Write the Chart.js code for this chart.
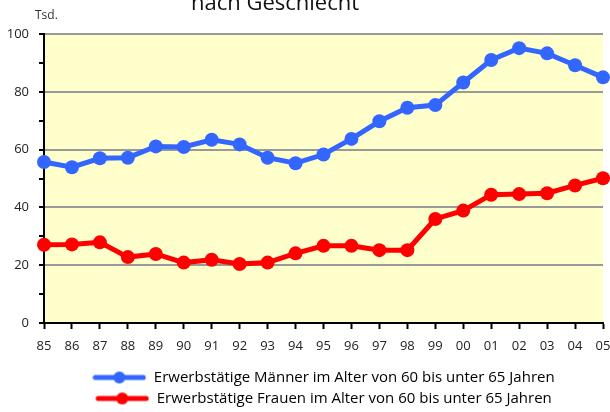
<!DOCTYPE html>
<html>
<head>
<meta charset="utf-8">
<script src="https://cdn.jsdelivr.net/npm/chart.js@4/dist/chart.umd.min.js"></script>
<style>
  html, body { margin: 0; padding: 0; background: #fff; }
  #wrap { width: 610px; height: 412px; position: relative; }
</style>
</head>
<body>
<div id="wrap"><canvas id="chart"></canvas></div>
<script>
// Erwerbstätige 60-65 Jahre, nach Geschlecht (Tsd.)
const YEARS = ['85', '86', '87', '88', '89', '90', '91', '92', '93', '94', '95',
  '96', '97', '98', '99', '00', '01', '02', '03', '04', '05'];
const MEN = [55.7, 53.9, 57.0, 57.2, 61.1, 60.9, 63.4, 61.8, 57.2, 55.3, 58.3,
  63.7, 69.8, 74.5, 75.4, 83.2, 91.0, 95.1, 93.3, 89.2, 85.0];
const WOMEN = [27.1, 27.2, 27.9, 22.8, 23.9, 20.9, 21.9, 20.4, 20.9, 24.1, 26.7,
  26.7, 25.2, 25.2, 36.0, 38.9, 44.4, 44.6, 44.9, 47.6, 50.1];
const MEN_LABEL = 'Erwerbstätige Männer im Alter von 60 bis unter 65 Jahren';
const WOMEN_LABEL = 'Erwerbstätige Frauen im Alter von 60 bis unter 65 Jahren';

const BLUE = '#3366ff';
const RED = '#ff0000';
const PLOT_BG = '#ffffcc';
const GRID = '#999999';
const FONT = "'Open Sans', 'DejaVu Sans', sans-serif";

Chart.defaults.font.family = FONT;
Chart.defaults.color = '#222';

// legend marker: line with a dot in the middle
function legendMarker(color) {
  const c = document.createElement('canvas');
  c.width = 54; c.height = 14;
  const g = c.getContext('2d');
  g.strokeStyle = color;
  g.lineWidth = 5;
  g.lineCap = 'round';
  g.beginPath(); g.moveTo(3, 7); g.lineTo(51, 7); g.stroke();
  g.fillStyle = color;
  g.beginPath(); g.arc(27, 7, 6, 0, Math.PI * 2); g.fill();
  return c;
}

const plotBackground = {
  id: 'plotBackground',
  beforeDraw(chart) {
    const { ctx, chartArea: a } = chart;
    ctx.save();
    ctx.fillStyle = PLOT_BG;
    ctx.fillRect(a.left, a.top, a.right - a.left, a.bottom - a.top);
    ctx.restore();
  }
};

const headerText = {
  id: 'headerText',
  afterDraw(chart) {
    const ctx = chart.ctx;
    ctx.save();
    ctx.fillStyle = '#111';
    ctx.textAlign = 'center';
    ctx.textBaseline = 'alphabetic';
    ctx.font = '22px ' + FONT;
    ctx.fillText('nach Geschlecht', 275, 10);
    ctx.font = '12px ' + FONT;
    ctx.textAlign = 'left';
    ctx.fillStyle = '#333';
    ctx.fillText('Tsd.', 35, 19);
    ctx.restore();
  }
};

function series(label, data, color) {
  return {
    label,
    data,
    borderColor: color,
    backgroundColor: color,
    borderWidth: 5,
    pointRadius: 7,
    pointHoverRadius: 7,
    pointBackgroundColor: color,
    pointBorderWidth: 0,
    tension: 0,
    clip: false,
  };
}

new Chart(document.getElementById('chart'), {
  type: 'line',
  data: {
    labels: YEARS,
    datasets: [series(MEN_LABEL, MEN, BLUE), series(WOMEN_LABEL, WOMEN, RED)],
  },
  options: {
    responsive: true,
    maintainAspectRatio: false,
    animation: false,
    layout: { padding: { left: 0, right: 0, top: 34, bottom: -4 } },
    plugins: {
      legend: {
        position: 'bottom',
        fullSize: false,
        labels: {
          usePointStyle: true,
          pointStyleWidth: 54,
          padding: 6,
          color: '#222',
          font: { size: 15 },
          generateLabels(chart) {
            return chart.data.datasets.map((ds, i) => ({
              text: ds.label,
              pointStyle: legendMarker(ds.borderColor),
              fillStyle: ds.borderColor,
              strokeStyle: ds.borderColor,
              lineWidth: 0,
              hidden: false,
              datasetIndex: i,
            }));
          },
        },
      },
      title: { display: false },
      tooltip: { enabled: false },
    },
    scales: {
      x: {
        offset: false,
        afterFit(scale) {
          scale.height = 41;
          scale.paddingRight = 6;
        },
        border: { display: true, color: '#000', width: 2 },
        grid: { drawOnChartArea: false, drawTicks: true, tickLength: 6, tickColor: '#000', tickWidth: 2 },
        ticks: { padding: 9, font: { size: 13 }, color: '#222', maxRotation: 0, autoSkip: false },
      },
      y: {
        min: 0,
        max: 100,
        afterFit(scale) { scale.width = 44; },
        border: { display: true, color: '#000', width: 2 },
        grid: {
          color: (c) => (c.tick && c.tick.value % 20 === 0 ? GRID : 'rgba(0,0,0,0)'),
          lineWidth: 2,
          drawTicks: true,
          tickLength: 5,
          tickColor: '#000',
          tickWidth: 2,
        },
        ticks: {
          stepSize: 10,
          padding: 10,
          font: { size: 13 },
          color: '#222',
          callback: (v) => (v % 20 === 0 ? v : ''),
        },
      },
    },
  },
  plugins: [plotBackground, headerText],
});
</script>
</body>
</html>
